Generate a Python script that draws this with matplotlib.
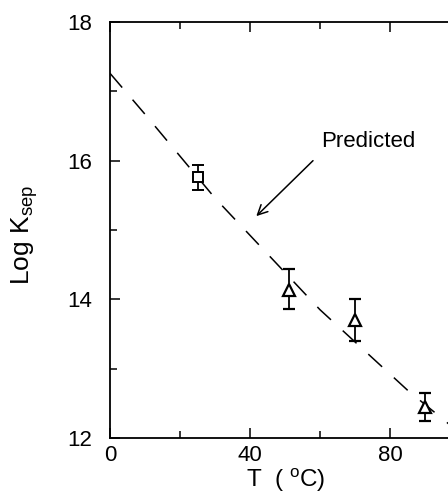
import numpy as np
import matplotlib
matplotlib.use("Agg")
import matplotlib.pyplot as plt

plt.rcParams['font.family'] = ['Liberation Sans', 'DejaVu Sans']
plt.rcParams['mathtext.fontset'] = 'custom'
plt.rcParams['mathtext.rm'] = 'Liberation Sans'
plt.rcParams['lines.scale_dashes'] = False

# ---- data ----
# measured points (square = 25 C, triangles = higher T)
sq_T = [25]
sq_logK = [15.77]
sq_err_lo = [0.19]
sq_err_hi = [0.17]

tri_T = [51, 70, 90]
tri_logK = [14.14, 13.70, 12.44]
tri_err_lo = [0.28, 0.30, 0.19]
tri_err_hi = [0.30, 0.31, 0.21]

# predicted curve (dashed)
pred_T = [0, 10, 30, 60, 85, 100]
pred_logK = [17.26, 16.67, 15.46, 13.85, 12.69, 12.07]

x_ticks = [0, 40, 80]
y_ticks = [12, 14, 16, 18]

# ---- figure ----
fig = plt.figure(figsize=(4.48, 4.96), dpi=100, facecolor='white')
ax = fig.add_axes([110 / 448, 58 / 496, 350 / 448, 416 / 496])

ax.plot(pred_T, pred_logK, color='black', linewidth=1.1,
        linestyle=(0, (13.5, 11.5)))

ax.errorbar(sq_T, sq_logK, yerr=[sq_err_lo, sq_err_hi], fmt='s',
            markersize=7, markerfacecolor='white', markeredgecolor='black',
            markeredgewidth=1.4, ecolor='black', elinewidth=1.3,
            capsize=4, capthick=1.3)
ax.errorbar(tri_T, tri_logK, yerr=[tri_err_lo, tri_err_hi], fmt='^',
            markersize=9, markerfacecolor='white', markeredgecolor='black',
            markeredgewidth=1.6, ecolor='black', elinewidth=1.3,
            capsize=4, capthick=1.3)

ax.set_xlim(0, 100)
ax.set_ylim(12, 18)
ax.set_xticks(x_ticks)
ax.set_yticks(y_ticks)
ax.set_xticks([20, 60, 100], minor=True)
ax.set_yticks([13, 15, 17], minor=True)
ax.tick_params(which='both', direction='in', top=True, right=True,
               width=1.1, labelsize=16)
ax.tick_params(which='major', length=7)
ax.tick_params(which='minor', length=5)
ax.tick_params(axis='y', pad=13)
ax.tick_params(axis='x', pad=5)
for s in ax.spines.values():
    s.set_linewidth(1.3)

ax.text(60.3, 16.20, 'Predicted', fontsize=16, ha='left', va='baseline')
ax.annotate('', xy=(41.8, 15.20), xytext=(58.0, 16.0),
            arrowprops=dict(arrowstyle='->,head_length=0.7,head_width=0.35',
                            color='black', lw=1.1,
                            shrinkA=0, shrinkB=0))

fig.text(25 / 448, 1 - 235 / 496, r'Log K$_{\mathregular{sep}}$',
         rotation=90, ha='center', va='center', fontsize=19)
fig.text(286 / 448, 2 / 496, r'T  ( $^{\mathregular{o}}$C)',
         ha='center', va='bottom', fontsize=17.5)

fig.savefig('out.png', dpi=100, facecolor='white')
